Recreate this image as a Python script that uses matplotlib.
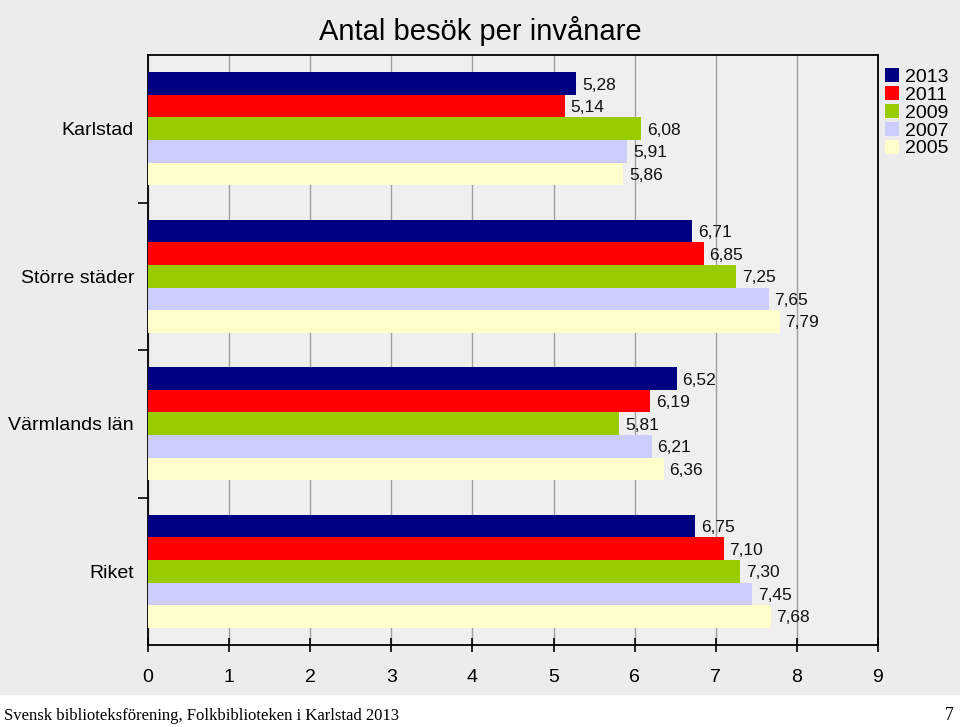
import matplotlib
matplotlib.use("Agg")
import matplotlib.pyplot as plt
import numpy as np
from matplotlib.patches import Rectangle

# data
categories = ["Karlstad", "Större städer", "Värmlands län", "Riket"]
years = ["2013", "2011", "2009", "2007", "2005"]
v2013 = [5.28, 6.71, 6.52, 6.75]
v2011 = [5.14, 6.85, 6.19, 7.10]
v2009 = [6.08, 7.25, 5.81, 7.30]
v2007 = [5.91, 7.65, 6.21, 7.45]
v2005 = [5.86, 7.79, 6.36, 7.68]
series = [v2013, v2011, v2009, v2007, v2005]
colors = ["#000080", "#FF0000", "#99CC00", "#CCCCFF", "#FFFFCC"]
xticks = list(range(0, 10))

plt.rcParams['font.family'] = ['Liberation Sans', 'DejaVu Sans']

fig = plt.figure(figsize=(9.6, 7.27), dpi=100)
fig.patch.set_facecolor("#ececec")
# white strip at the bottom of the slide
fig.patches.append(Rectangle((0, 0), 1, 32 / 727, transform=fig.transFigure,
                             facecolor="white", edgecolor="none", zorder=0))

ax = fig.add_axes([148 / 960, 1 - 645 / 727, 730 / 960, 590 / 727])
ax.set_facecolor("#efefef")

y = np.arange(len(categories))
h = 0.153
for i, (vals, col, yr) in enumerate(zip(series, colors, years)):
    pos = y + (i - 2) * h
    ax.barh(pos, vals, height=h, color=col, label=yr, zorder=3)
    for p, v in zip(pos, vals):
        ax.text(v + 0.07, p + 0.01, f"{v:.2f}".replace(".", ","), va="center",
                ha="left", fontsize=12.5, color="#111111", zorder=4)

ax.set_xlim(0, 9)
ax.set_ylim(3.5, -0.5)
ax.set_xticks(xticks)
ax.tick_params(axis="x", direction="inout", length=10, width=1.2, labelsize=14, pad=12)
ax.set_yticks(y)
ax.set_yticklabels(categories, fontsize=14)
ax.tick_params(axis="y", length=0, pad=10)
ax.set_yticks([0.5, 1.5, 2.5], minor=True)
ax.tick_params(axis="y", which="minor", length=7, width=1.2, direction="out")
ax.grid(axis="x", color="#a0a0a0", linewidth=1, zorder=0)
for s in ax.spines.values():
    s.set_color("black")
    s.set_linewidth(1.3)

fig.text(0.5, 1 - 31 / 727, "Antal besök per invånare", ha="center", va="center", fontsize=21)

handles, labels = ax.get_legend_handles_labels()
fig.legend(handles, labels, loc="upper left", bbox_to_anchor=(881 / 960, 1 - 64 / 727),
           frameon=False, fontsize=14, handlelength=0.75, handleheight=0.75,
           handletextpad=0.3, labelspacing=0.0, borderaxespad=0, borderpad=0.2)

fig.text(4 / 960, 1 - 716 / 727, "Svensk biblioteksförening, Folkbiblioteken i Karlstad 2013",
         ha="left", va="center", fontsize=12, family=["Liberation Serif", "DejaVu Serif"])
fig.text(954 / 960, 1 - 716 / 727, "7", ha="right", va="center", fontsize=13,
         family=["Liberation Serif", "DejaVu Serif"])

fig.savefig("out.png", dpi=100, facecolor=fig.get_facecolor())
